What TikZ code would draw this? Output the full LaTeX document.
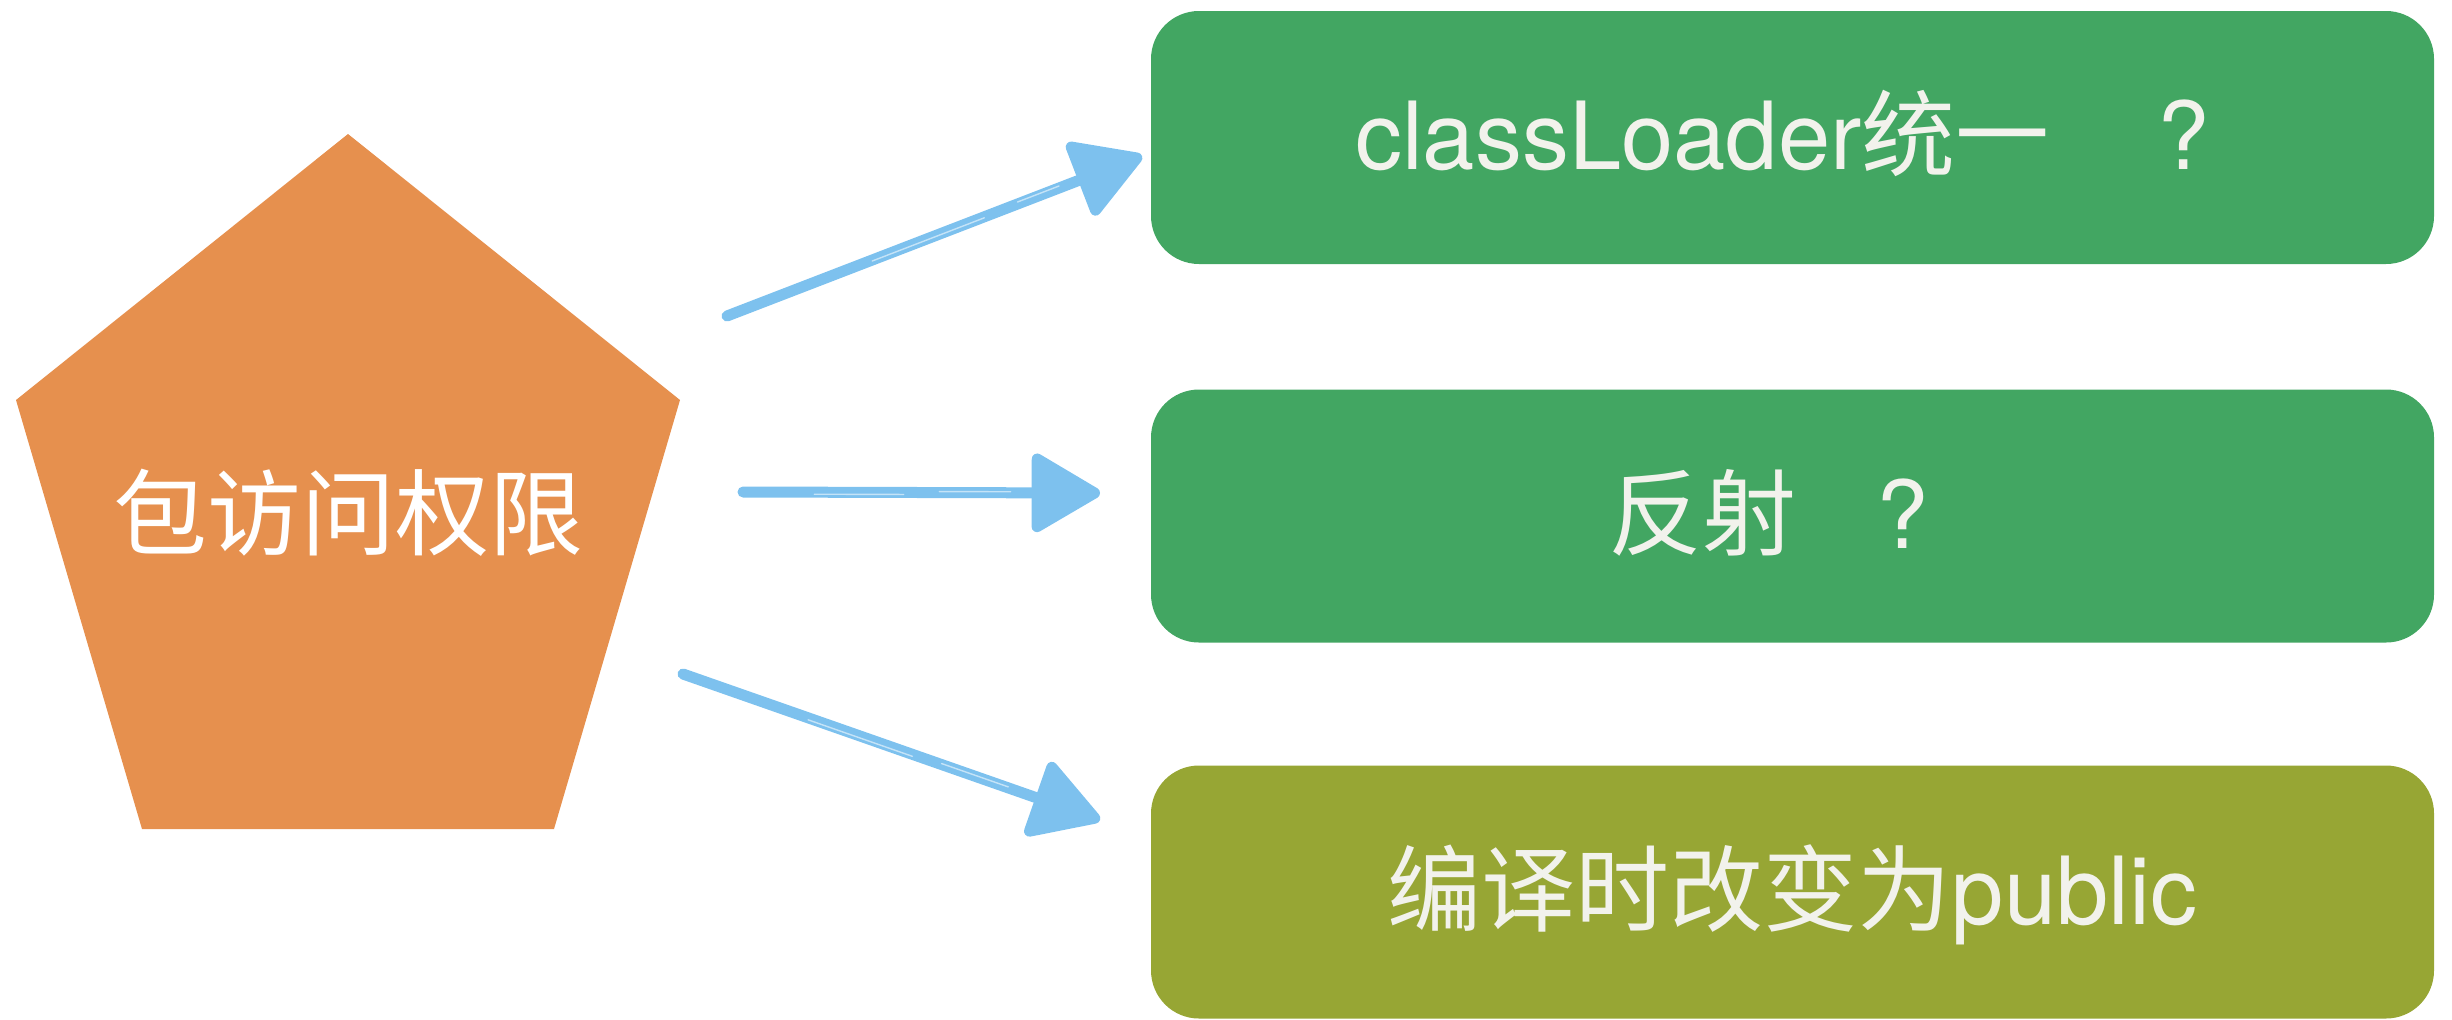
\documentclass[tikz,border=0pt]{standalone}
\usepackage{fontspec}
\setmainfont{TeX Gyre Heros}
\newfontfamily\cjk{Noto Sans CJK SC}
\usetikzlibrary{arrows.meta,calc}
\definecolor{pent}{RGB}{230,144,78}
\definecolor{gbox}{RGB}{66,166,98}
\definecolor{obox}{RGB}{151,166,52}
\definecolor{arr}{RGB}{125,193,238}
\definecolor{txt}{RGB}{242,242,236}
\begin{document}
\begin{tikzpicture}[x=0.5pt,y=-0.5pt,
  lbl/.style={inner sep=0pt, font=\fontsize{47}{56}\selectfont, text height=40pt, text depth=8pt},
  box/.style={lbl, rounded corners=24pt, minimum width=641.5pt, minimum height=126.5pt, text=txt},
  brush/.style={draw=arr, line width=5.5pt, line cap=round, -{Triangle[length=37pt 0, width=42pt 0, round]}},
  streak/.style={draw=white, line width=0.7pt, opacity=0.55, line cap=round},
]
\useasboundingbox (0,0) rectangle (2452,1019);
% pentagon
\fill[pent] (348,134) -- (680,400) -- (554,829) -- (142,829) -- (16,400) -- cycle;
\node[lbl, text=white] (pkg) at (348,516) {\cjk 包访问权限};
% boxes
\node[box, fill=gbox] (b1) at (1792.5,137.5) {classLoader{\cjk 统一}\kern54pt?\kern10pt};
\node[box, fill=gbox] (b2) at (1792.5,516) {{\cjk 反射}\kern40pt?\kern24pt};
\node[box, fill=obox] (b3) at (1792.5,892) {{\cjk 编译时改变为}public};
% arrow ends
\coordinate (t1) at (727,316);
\coordinate (h1) at (1142,156);
\coordinate (t2) at (743,492);
\coordinate (h2) at (1100,493);
\coordinate (t3) at (683,674);
\coordinate (h3) at (1100,820);
% arrows
\draw[brush] (t1) -- (h1);
\draw[brush] (t2) -- (h2);
\draw[brush] (t3) -- (h3);
% brush streaks
\draw[streak] ($(t1)!0.35!(h1)+(0,1)$) -- ($(t1)!0.62!(h1)+(0,1)$);
\draw[streak] ($(t1)!0.70!(h1)+(0,-2)$) -- ($(t1)!0.80!(h1)+(0,-2)$);
\draw[streak] ($(t2)!0.20!(h2)+(0,2)$) -- ($(t2)!0.45!(h2)+(0,2)$);
\draw[streak] ($(t2)!0.55!(h2)+(0,-1)$) -- ($(t2)!0.75!(h2)+(0,-1)$);
\draw[streak] ($(t3)!0.30!(h3)+(0,2)$) -- ($(t3)!0.55!(h3)+(0,2)$);
\draw[streak] ($(t3)!0.62!(h3)+(0,-1)$) -- ($(t3)!0.78!(h3)+(0,-1)$);
\end{tikzpicture}
\end{document}
